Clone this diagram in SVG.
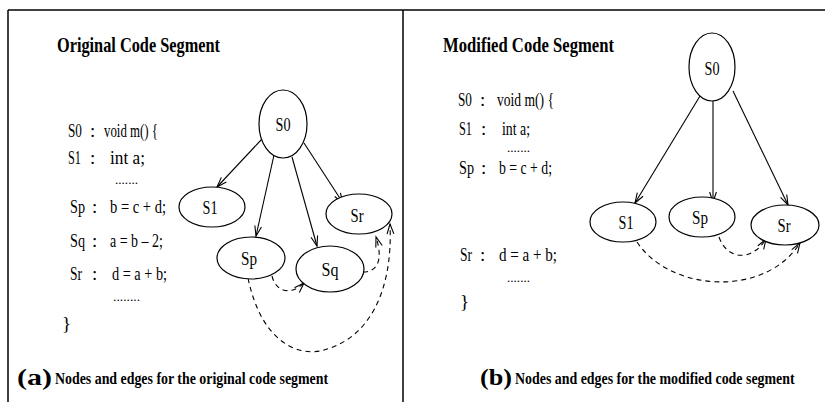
<svg xmlns="http://www.w3.org/2000/svg" width="825" height="402" viewBox="0 0 825 402">
<style>
text{font-family:"Liberation Serif","Times New Roman",serif;fill:#000}
.t{font-size:22px;font-weight:bold}
.c{font-size:19px}
.dt{font-size:12px}
.n{font-size:19px;text-anchor:middle}
.cap{font-size:16px;font-weight:bold}
.lab{font-size:24px;font-weight:bold}
.frame{stroke:#000;stroke-width:1.5;fill:none}
ellipse{fill:#fff;stroke:#000;stroke-width:1.2}
.e{stroke:#000;stroke-width:1.1;fill:none;marker-end:url(#ar)}
.d{stroke:#000;stroke-width:1.1;fill:none;stroke-dasharray:5,4;marker-end:url(#ar)}
</style>
<defs>
<marker id="ar" markerUnits="userSpaceOnUse" markerWidth="12" markerHeight="10" refX="10" refY="4" orient="auto" overflow="visible">
<path d="M0,0.6 L10,4 L0,7.4" fill="none" stroke="#000" stroke-width="1.1" stroke-dasharray="none"/>
</marker>
</defs>
<g id="frame">
<line class="frame" x1="8" y1="10" x2="825" y2="10"/>
<line class="frame" x1="8" y1="10" x2="8" y2="402"/>
<line class="frame" x1="403" y1="10" x2="403" y2="402"/>
</g>
<g id="left-text">
<text class="t" x="57" y="52" textLength="163" lengthAdjust="spacingAndGlyphs">Original Code Segment</text>
<text class="c" x="68" y="137" textLength="14" lengthAdjust="spacingAndGlyphs">S0</text><text class="c" x="90" y="137">:</text>
<text class="c" x="104" y="137" textLength="54" lengthAdjust="spacingAndGlyphs">void m() {</text>
<text class="c" x="68" y="164" textLength="13" lengthAdjust="spacingAndGlyphs">S1</text><text class="c" x="90" y="164">:</text>
<text class="c" x="110" y="164" textLength="35" lengthAdjust="spacingAndGlyphs">int a;</text>
<text class="dt" x="115" y="184" textLength="23" lengthAdjust="spacingAndGlyphs">.......</text>
<text class="c" x="70" y="213" textLength="15" lengthAdjust="spacingAndGlyphs">Sp</text><text class="c" x="92" y="213">:</text>
<text class="c" x="110" y="213" textLength="56" lengthAdjust="spacingAndGlyphs">b = c + d;</text>
<text class="c" x="70" y="247" textLength="15" lengthAdjust="spacingAndGlyphs">Sq</text><text class="c" x="92" y="247">:</text>
<text class="c" x="110" y="247" textLength="53" lengthAdjust="spacingAndGlyphs">a = b – 2;</text>
<text class="c" x="70" y="280" textLength="12" lengthAdjust="spacingAndGlyphs">Sr</text><text class="c" x="92" y="280">:</text>
<text class="c" x="112" y="280" textLength="55" lengthAdjust="spacingAndGlyphs">d = a + b;</text>
<text class="dt" x="113" y="301" textLength="27" lengthAdjust="spacingAndGlyphs">........</text>
<text class="c" x="62" y="330">}</text>
<text class="lab" x="17" y="385" textLength="35" lengthAdjust="spacingAndGlyphs">(a)</text>
<g transform="translate(55,384) scale(0.82,1)"><text class="cap" x="0" y="0" textLength="333" lengthAdjust="spacingAndGlyphs">Nodes and edges for the original code segment</text></g>
</g>
<g id="right-text">
<text class="t" x="443" y="52" textLength="171" lengthAdjust="spacingAndGlyphs">Modified Code  Segment</text>
<text class="c" x="458" y="106" textLength="14" lengthAdjust="spacingAndGlyphs">S0</text><text class="c" x="480" y="106">:</text>
<text class="c" x="497" y="106" textLength="57" lengthAdjust="spacingAndGlyphs">void m() {</text>
<text class="c" x="459" y="135" textLength="13" lengthAdjust="spacingAndGlyphs">S1</text><text class="c" x="481" y="135">:</text>
<text class="c" x="502" y="135" textLength="28" lengthAdjust="spacingAndGlyphs">int a;</text>
<text class="dt" x="507" y="152" textLength="23" lengthAdjust="spacingAndGlyphs">.......</text>
<text class="c" x="459" y="174" textLength="15" lengthAdjust="spacingAndGlyphs">Sp</text><text class="c" x="481" y="174">:</text>
<text class="c" x="499" y="174" textLength="53" lengthAdjust="spacingAndGlyphs">b = c + d;</text>
<text class="c" x="460" y="261" textLength="12" lengthAdjust="spacingAndGlyphs">Sr</text><text class="c" x="480" y="261">:</text>
<text class="c" x="499" y="261" textLength="58" lengthAdjust="spacingAndGlyphs">d =  a + b;</text>
<text class="dt" x="507" y="282" textLength="23" lengthAdjust="spacingAndGlyphs">.......</text>
<text class="c" x="460" y="308">}</text>
<text class="lab" x="480" y="385" textLength="32" lengthAdjust="spacingAndGlyphs">(b)</text>
<g transform="translate(515,384) scale(0.82,1)"><text class="cap" x="0" y="0" textLength="341" lengthAdjust="spacingAndGlyphs">Nodes and edges for the modified code segment</text></g>
</g>
<g id="connectors">
<line class="e" x1="262" y1="139" x2="217" y2="187"/>
<line class="e" x1="274" y1="155" x2="256" y2="236"/>
<line class="e" x1="292" y1="157" x2="317" y2="246"/>
<line class="e" x1="304" y1="143" x2="343" y2="203"/>
<path class="d" d="M272,276 C276,293 292,295 304,283"/>
<path class="d" d="M363,272 C376,272 384,262 376,237"/>
<path class="d" d="M248,278 C262,345 300,355 320,351 C370,340 393,290 390,224"/>
<line class="e" x1="700" y1="96" x2="635" y2="203"/>
<line class="e" x1="713" y1="101" x2="713" y2="202"/>
<line class="e" x1="733" y1="91" x2="788" y2="205"/>
<path class="d" d="M719,237 C727,260 752,262 766,239"/>
<path class="d" d="M637,242 C670,292 765,298 800,243"/>
</g>
<g id="L-S0"><ellipse cx="283" cy="124" rx="24" ry="34"/><text class="n" x="283" y="131" textLength="15" lengthAdjust="spacingAndGlyphs">S0</text></g>
<g id="L-S1"><ellipse cx="212" cy="207" rx="33" ry="20"/><text class="n" x="210" y="214" textLength="15" lengthAdjust="spacingAndGlyphs">S1</text></g>
<g id="L-Sr"><ellipse cx="359" cy="214" rx="33" ry="20"/><text class="n" x="357" y="222" textLength="13" lengthAdjust="spacingAndGlyphs">Sr</text></g>
<g id="L-Sp"><ellipse cx="251" cy="258" rx="34" ry="21"/><text class="n" x="249" y="265" textLength="16" lengthAdjust="spacingAndGlyphs">Sp</text></g>
<g id="L-Sq"><ellipse cx="330" cy="269" rx="34" ry="23"/><text class="n" x="330" y="276" textLength="17" lengthAdjust="spacingAndGlyphs">Sq</text></g>
<g id="R-S0"><ellipse cx="712" cy="67" rx="23" ry="34"/><text class="n" x="712" y="75" textLength="15" lengthAdjust="spacingAndGlyphs">S0</text></g>
<g id="R-S1"><ellipse cx="623" cy="222" rx="33" ry="20"/><text class="n" x="626" y="229" textLength="15" lengthAdjust="spacingAndGlyphs">S1</text></g>
<g id="R-Sp"><ellipse cx="702" cy="217" rx="33" ry="20"/><text class="n" x="700" y="224" textLength="16" lengthAdjust="spacingAndGlyphs">Sp</text></g>
<g id="R-Sr"><ellipse cx="785" cy="225" rx="34" ry="20"/><text class="n" x="784" y="232" textLength="13" lengthAdjust="spacingAndGlyphs">Sr</text></g>
</svg>
